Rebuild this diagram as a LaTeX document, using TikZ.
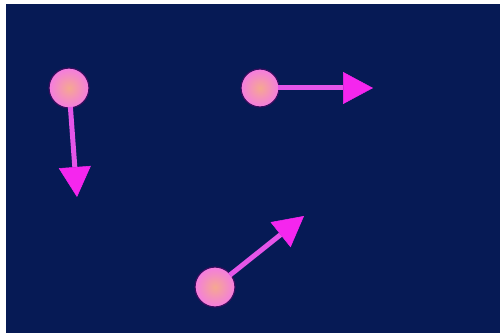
\documentclass[tikz,border=0pt]{standalone}
\usetikzlibrary{arrows.meta,shadings}
\definecolor{bgnavy}{HTML}{061A55}
\definecolor{ballin}{HTML}{F5A890}
\definecolor{ballout}{HTML}{F47CE0}
\definecolor{ballrim}{HTML}{3A0C5E}
\definecolor{arrowmag}{HTML}{E555E8}
\definecolor{headmag}{HTML}{F526EE}
\begin{document}
\begin{tikzpicture}[x=1pt,y=-1pt,
  ball/.style={circle,minimum size=40pt,inner sep=0pt,outer sep=0pt,draw=ballrim,line width=1.2pt,
    inner color=ballin,outer color=ballout},
  vec/.style={draw=arrowmag,line width=5pt,shorten <=-1pt,
    -{Triangle[length=30pt,width=32pt,color=headmag,line width=0.5pt]}}]
\useasboundingbox (0,0) rectangle (500,334);
\fill[white] (0,0) rectangle (500,334);
\fill[bgnavy] (6,4) rectangle (500,333);
\node[ball] (a) at (69,88) {};
\node[ball,minimum size=38pt] (b) at (260,88) {};
\node[ball] (c) at (215,287) {};
\coordinate (ta) at (77,197);
\coordinate (tb) at (373,88);
\coordinate (tc) at (304,216);
\draw[vec] (a) -- (ta);
\draw[vec] (b) -- (tb);
\draw[vec] (c) -- (tc);
\end{tikzpicture}
\end{document}
